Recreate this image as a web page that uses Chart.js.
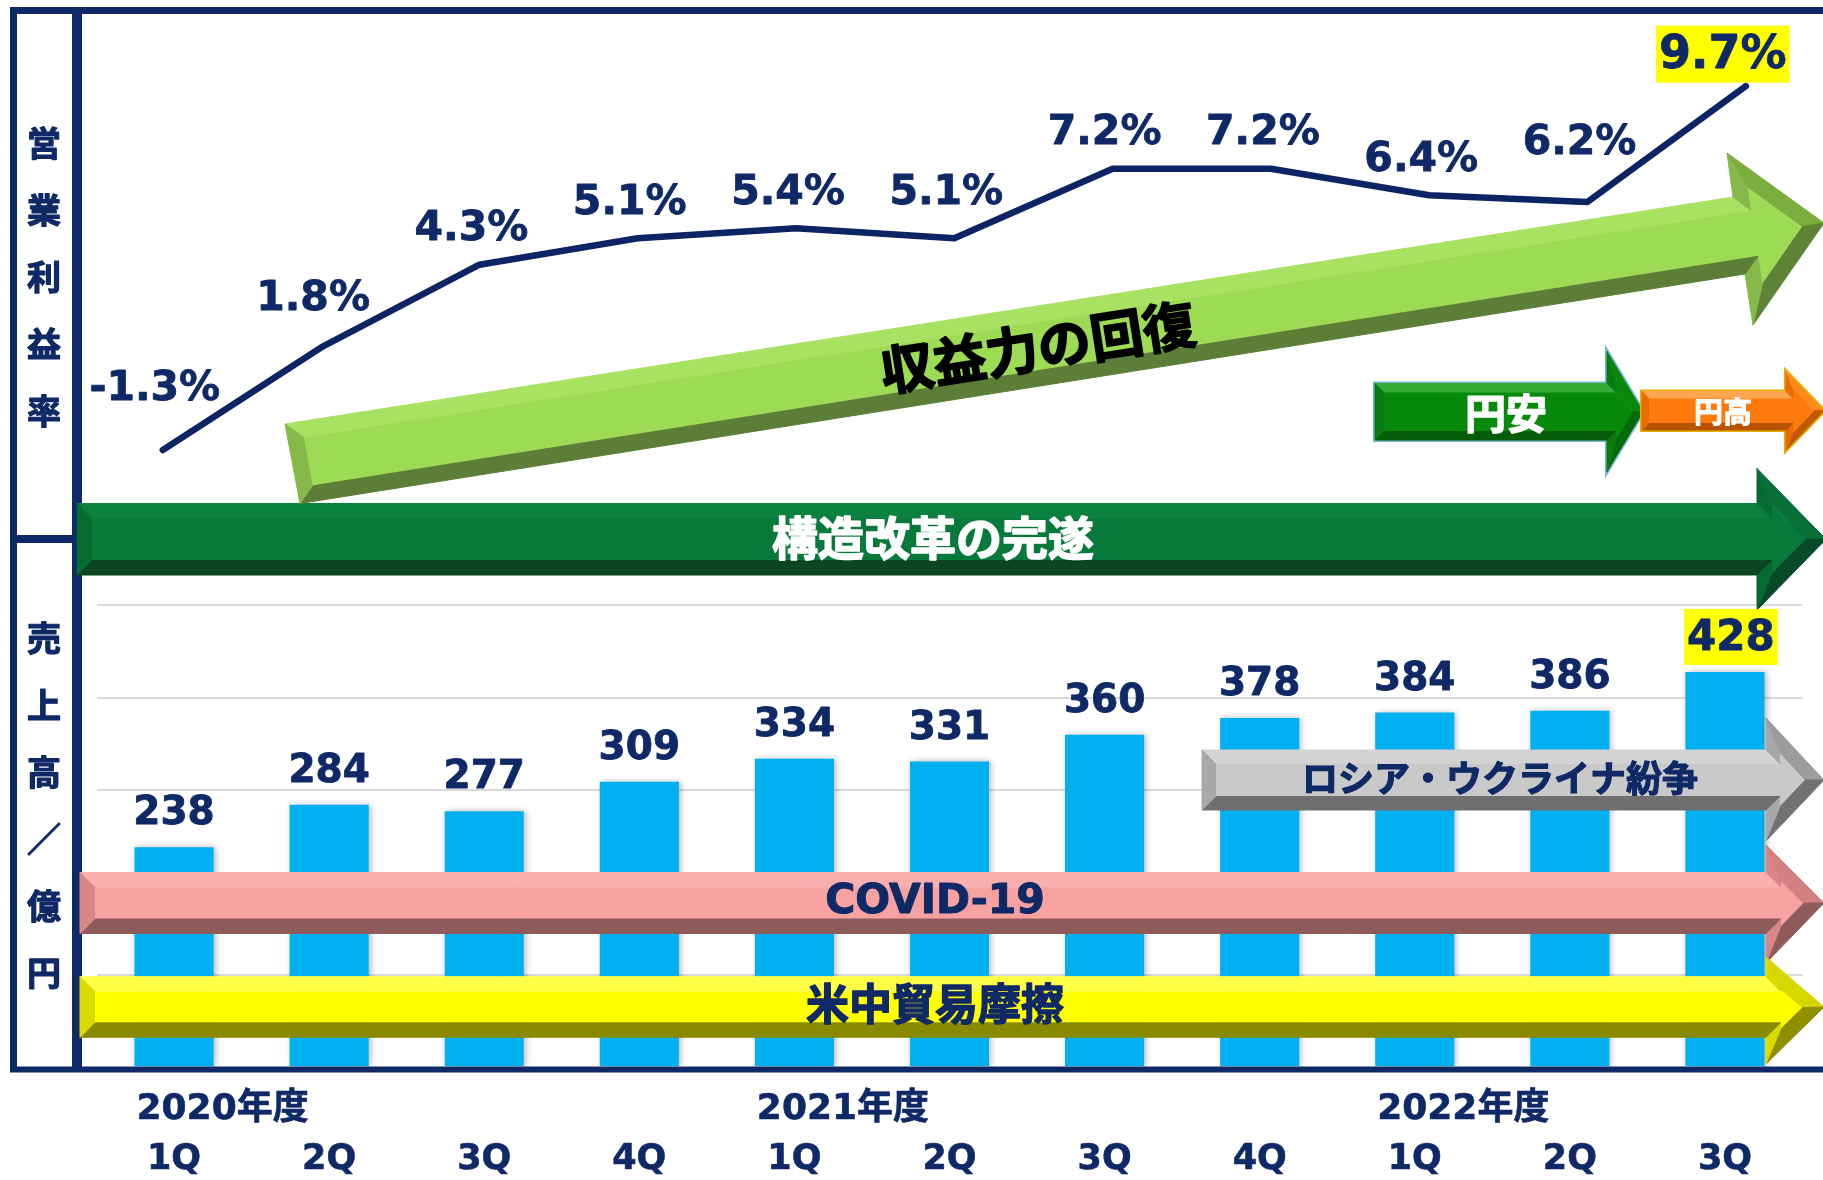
<!DOCTYPE html>
<html lang="ja">
<head>
<meta charset="utf-8">
<title>営業利益率・売上高の推移</title>
<script src="https://cdn.jsdelivr.net/npm/chart.js@4.4.1/dist/chart.umd.min.js"></script>
<style>
  html,body{margin:0;padding:0;background:#fff;}
  #wrap{width:1823px;height:1180px;position:relative;}
</style>
</head>
<body>
<div id="wrap"><canvas id="c" width="1823" height="1180"></canvas></div>
<script>
/* ---- values ---- */
var quarters=['1Q','2Q','3Q','4Q','1Q','2Q','3Q','4Q','1Q','2Q','3Q'];
var fiscalYears=['2020年度','','','','2021年度','','','','2022年度','',''];
var sales=[238,284,277,309,334,331,360,378,384,386,428];      // 売上高 億円
var margin=[-1.3,1.8,4.3,5.1,5.4,5.1,7.2,7.2,6.4,6.2,9.7];   // 営業利益率 %
var gridSteps=[100,200,300,400,500];
var marginTitle='営業利益率';
var salesTitle='売上高／億円';

var NAVY='#0f2966';
var FNUM='"DejaVu Sans","Noto Sans CJK JP",sans-serif';
var FJP='"Noto Sans CJK JP","DejaVu Sans",sans-serif';

/* text, with an optional thin stroke to make the glyphs heavier */
function txt(c,s,x,y,font,color,align,heavy){
  c.font=font;c.fillStyle=color;c.textAlign=align||'center';c.textBaseline='middle';
  if(heavy){c.strokeStyle=color;c.lineWidth=heavy;c.lineJoin='round';c.strokeText(s,x,y);}
  c.fillText(s,x,y);
}
function seg(c,x1,y1,x2,y2,w){c.lineWidth=w;c.beginPath();c.moveTo(x1,y1);c.lineTo(x2,y2);c.stroke();}

/* inset a clockwise polygon by b, returns inner vertices + inward normals */
function inset(pts,b){
  var n=pts.length,L=[],out=[];
  for(var i=0;i<n;i++){
    var p=pts[i],q=pts[(i+1)%n],dx=q[0]-p[0],dy=q[1]-p[1],len=Math.hypot(dx,dy);
    var nx=-dy/len,ny=dx/len;
    L.push({x:p[0]+nx*b,y:p[1]+ny*b,dx:dx/len,dy:dy/len,nx:nx,ny:ny});
  }
  for(var i=0;i<n;i++){
    var a=L[(i-1+n)%n],e=L[i],cr=a.dx*e.dy-a.dy*e.dx;
    var t=((e.x-a.x)*e.dy-(e.y-a.y)*e.dx)/cr;
    out.push([a.x+a.dx*t,a.y+a.dy*t]);
  }
  return {inner:out,lines:L};
}
function poly(c,pts){c.beginPath();pts.forEach(function(p,i){i?c.lineTo(p[0],p[1]):c.moveTo(p[0],p[1]);});c.closePath();}

/* bevelled 3D-looking arrow, facet colour picked from the edge's outward normal */
function bevelArrow(c,pts,b,col){
  var r=inset(pts,b),n=pts.length;
  c.save();c.lineJoin='miter';
  if(col.outline){poly(c,pts);c.strokeStyle=col.outline;c.lineWidth=4;c.stroke();}
  for(var i=0;i<n;i++){
    var o=r.lines[i],ang=Math.atan2(-o.ny,-o.nx)*180/Math.PI,fc;
    if(ang>-135&&ang<=-67.5)fc=col.top;
    else if(ang>-67.5&&ang<0)fc=col.up;
    else if(ang>=0&&ang<67.5)fc=col.down;
    else if(ang>=67.5&&ang<135)fc=col.bottom;
    else fc=col.left;
    var q=[pts[i],pts[(i+1)%n],r.inner[(i+1)%n],r.inner[i]];
    poly(c,q);c.fillStyle=fc;c.fill();c.strokeStyle=fc;c.lineWidth=1;c.stroke();
  }
  poly(c,r.inner);c.fillStyle=col.face;c.fill();
  c.restore();
}
function hArrow(x0,xb,xt,yT,yB,hT,hB){
  var yc=(yT+yB)/2;
  return [[x0,yT],[xb,yT],[xb,hT],[xt,yc],[xb,hB],[xb,yB],[x0,yB]];
}

function drawFrame(c){
  c.save();c.strokeStyle=NAVY;c.lineCap='butt';
  seg(c,10,10.5,1823,10.5,7);
  seg(c,13.5,7,13.5,1072,7);
  seg(c,77,7,77,1072,10);
  seg(c,10,539,77,539,8);
  seg(c,10,1069.5,1823,1069.5,6);
  c.restore();
}

function drawArrows(c){
  // 構造改革の完遂
  bevelArrow(c,hArrow(77,1757,1826,503.5,575,468.5,610),15,
    {face:'#077a3b',top:'#0a813f',left:'#066a31',bottom:'#0b4523',up:'#086f37',down:'#074a27'});
  txt(c,'構造改革の完遂',933,538,'bold 46px '+FJP,'#ffffff','center',1.6);

  // 収益力の回復 (diagonal)
  bevelArrow(c,[[285,424],[1733,197],[1727,153],[1824,223],[1753,325],[1745,274],[300,503.5]],16,
    {face:'#9edb55',top:'#a9e262',left:'#86b94a',bottom:'#5c7e36',up:'#7cae3f',down:'#5e8236'});
  c.save();c.translate(1038,347);c.rotate(Math.atan2(-0.157,1));
  txt(c,'収益力の回復',0,0,'bold 53px '+FJP,'#000000','center',1.8);
  c.restore();

  // 円安 / 円高
  bevelArrow(c,hArrow(1375,1607,1643,383.5,440,351.5,471.5),9,
    {face:'#078a0a',top:'#34ab34',left:'#0c7a10',bottom:'#055c08',up:'#0a860c',down:'#056a08',outline:'#74b8d2'});
  txt(c,'円安',1506,413,'bold 41px '+FJP,'#ffffff','center',1.4);
  bevelArrow(c,hArrow(1642,1786,1824,391.5,430,371.5,450),7,
    {face:'#ff7a0c',top:'#ffa650',left:'#e86a00',bottom:'#b75200',up:'#ff8a20',down:'#c05a00',outline:'#e2b000'});
  txt(c,'円高',1723,412,'bold 29px '+FJP,'#ffffff','center',1);

  // ロシア・ウクライナ紛争
  bevelArrow(c,hArrow(1202,1766,1824,750,810,718,841),14,
    {face:'#c9c9c9',top:'#d3d3d3',left:'#a8a8a8',bottom:'#6f6f6f',up:'#9c9c9c',down:'#727272'});
  txt(c,'ロシア・ウクライナ紛争',1500,778,'bold 36px '+FJP,NAVY,'center',1.2);

  // COVID-19
  bevelArrow(c,hArrow(80,1766,1824,872.5,933.5,845,963),15,
    {face:'#f8a1a1',top:'#fbb0b0',left:'#d88686',bottom:'#8e5a5a',up:'#d38080',down:'#8e5a5a'});
  txt(c,'COVID-19',935,902,'bold 41px '+FNUM,NAVY,'center',1);

  // 米中貿易摩擦
  bevelArrow(c,hArrow(80,1766,1824,976.7,1037.3,957,1064),15,
    {face:'#ffff00',top:'#ffff45',left:'#dada00',bottom:'#8a8a00',up:'#d6d600',down:'#8f8f00'});
  txt(c,'米中貿易摩擦',935,1004,'bold 43px '+FJP,NAVY,'center',1.4);
}

function drawBarLabels(chart){
  var c=chart.ctx,meta=chart.getDatasetMeta(0),last=sales.length-1;
  meta.data.forEach(function(el,i){
    var y=el.y-35,s=String(sales[i]);
    if(i===last){
      c.font='bold 42px '+FNUM;var w=c.measureText(s).width+6;
      c.fillStyle='#ffff00';c.fillRect(el.x+6-w/2,y-28,w,56);
      txt(c,s,el.x+6,y+2,'bold 42px '+FNUM,NAVY,'center',0.8);
    }else txt(c,s,el.x,y+2,'bold 39px '+FNUM,NAVY,'center',0.8);
  });
}

/* highest point of the line under a label's horizontal span */
function lineTop(pts,x0,x1){
  var m=Infinity;
  for(var i=0;i<pts.length;i++){
    var p=pts[i],q=pts[i+1];
    if(p.x>=x0&&p.x<=x1)m=Math.min(m,p.y);
    if(!q)continue;
    [x0,x1].forEach(function(x){
      if(x>=p.x&&x<=q.x)m=Math.min(m,p.y+(q.y-p.y)*(x-p.x)/(q.x-p.x));
    });
  }
  return m;
}

function drawLineLabels(chart){
  var c=chart.ctx,pts=chart.getDatasetMeta(1).data,last=margin.length-1;
  pts.forEach(function(el,i){
    var s=margin[i].toFixed(1)+'%';
    if(i===last){
      var x=el.x-23,y=el.y-32;
      c.font='bold 46px '+FNUM;var w=c.measureText(s).width+6;
      c.fillStyle='#ffff00';c.fillRect(x-w/2,y-28.5,w,57);
      txt(c,s,x,y+2,'bold 46px '+FNUM,NAVY,'center',0.8);
      return;
    }
    c.font='bold 41px '+FNUM;
    var w2=c.measureText(s).width/2,x2=el.x-8;
    var y2=Math.min(el.y-37,lineTop(pts,x2-w2,x2+w2)-25);
    txt(c,s,x2,y2+2,'bold 41px '+FNUM,NAVY,'center',0.8);
  });
}

function drawAxisText(chart){
  var c=chart.ctx,meta=chart.getDatasetMeta(0);
  meta.data.forEach(function(el,i){
    if(fiscalYears[i])txt(c,fiscalYears[i],el.x-el.width/2+2,1110,'bold 36px '+FNUM,NAVY,'left',0.6);
    txt(c,quarters[i],el.x,1160,'bold 35px '+FNUM,NAVY,'center',0.6);
  });
  marginTitle.split('').forEach(function(ch,i){txt(c,ch,44,143+i*67,'bold 34px '+FJP,NAVY,'center',1.2);});
  salesTitle.split('').forEach(function(ch,i){txt(c,ch,44,638+i*67,'bold 34px '+FJP,NAVY,'center',1.2);});
}

var overlay={
  id:'overlay',
  beforeDatasetDraw:function(chart,args){
    if(args.index!==0)return;
    var c=chart.ctx;c.save();
    c.shadowColor='rgba(0,0,0,0.28)';c.shadowBlur=6;c.shadowOffsetX=2;
  },
  afterDatasetDraw:function(chart,args){
    if(args.index!==0)return;
    var c=chart.ctx;c.restore();
    drawFrame(c);drawArrows(c);drawBarLabels(chart);
  },
  afterDatasetsDraw:function(chart){
    drawLineLabels(chart);drawAxisText(chart);
  }
};

new Chart(document.getElementById('c'),{
  type:'bar',
  data:{
    labels:quarters,
    datasets:[
      {label:'売上高',data:sales,backgroundColor:'#00b0f0',barPercentage:0.51,categoryPercentage:1,grouped:false,order:1},
      {type:'line',label:'営業利益率',data:margin.map(function(v,i){return{x:i,y:v};}),
       xAxisID:'x2',yAxisID:'y2',borderColor:'#0c2464',borderWidth:6.5,pointRadius:0,
       tension:0,fill:false,borderCapStyle:'round',borderJoinStyle:'round',order:0}
    ]
  },
  options:{
    responsive:false,animation:false,devicePixelRatio:1,
    layout:{padding:{left:96.5,right:20.5,top:10,bottom:113}},
    plugins:{legend:{display:false},tooltip:{enabled:false}},
    scales:{
      x:{display:false},
      y:{min:0,max:1145,
         ticks:{display:false,stepSize:100},border:{display:false},
         grid:{drawTicks:false,lineWidth:2,
               color:function(ctx){return gridSteps.indexOf(ctx.tick.value)>=0?'#d9d9d9':'rgba(0,0,0,0)';}},
         afterFit:function(s){s.width=0;}},
      x2:{type:'linear',display:false,offset:false,grid:{offset:false},min:-0.4188,max:10.358},
      y2:{type:'linear',display:false,offset:false,min:-19.95,max:12.0}
    }
  },
  plugins:[overlay]
});
</script>
</body>
</html>
